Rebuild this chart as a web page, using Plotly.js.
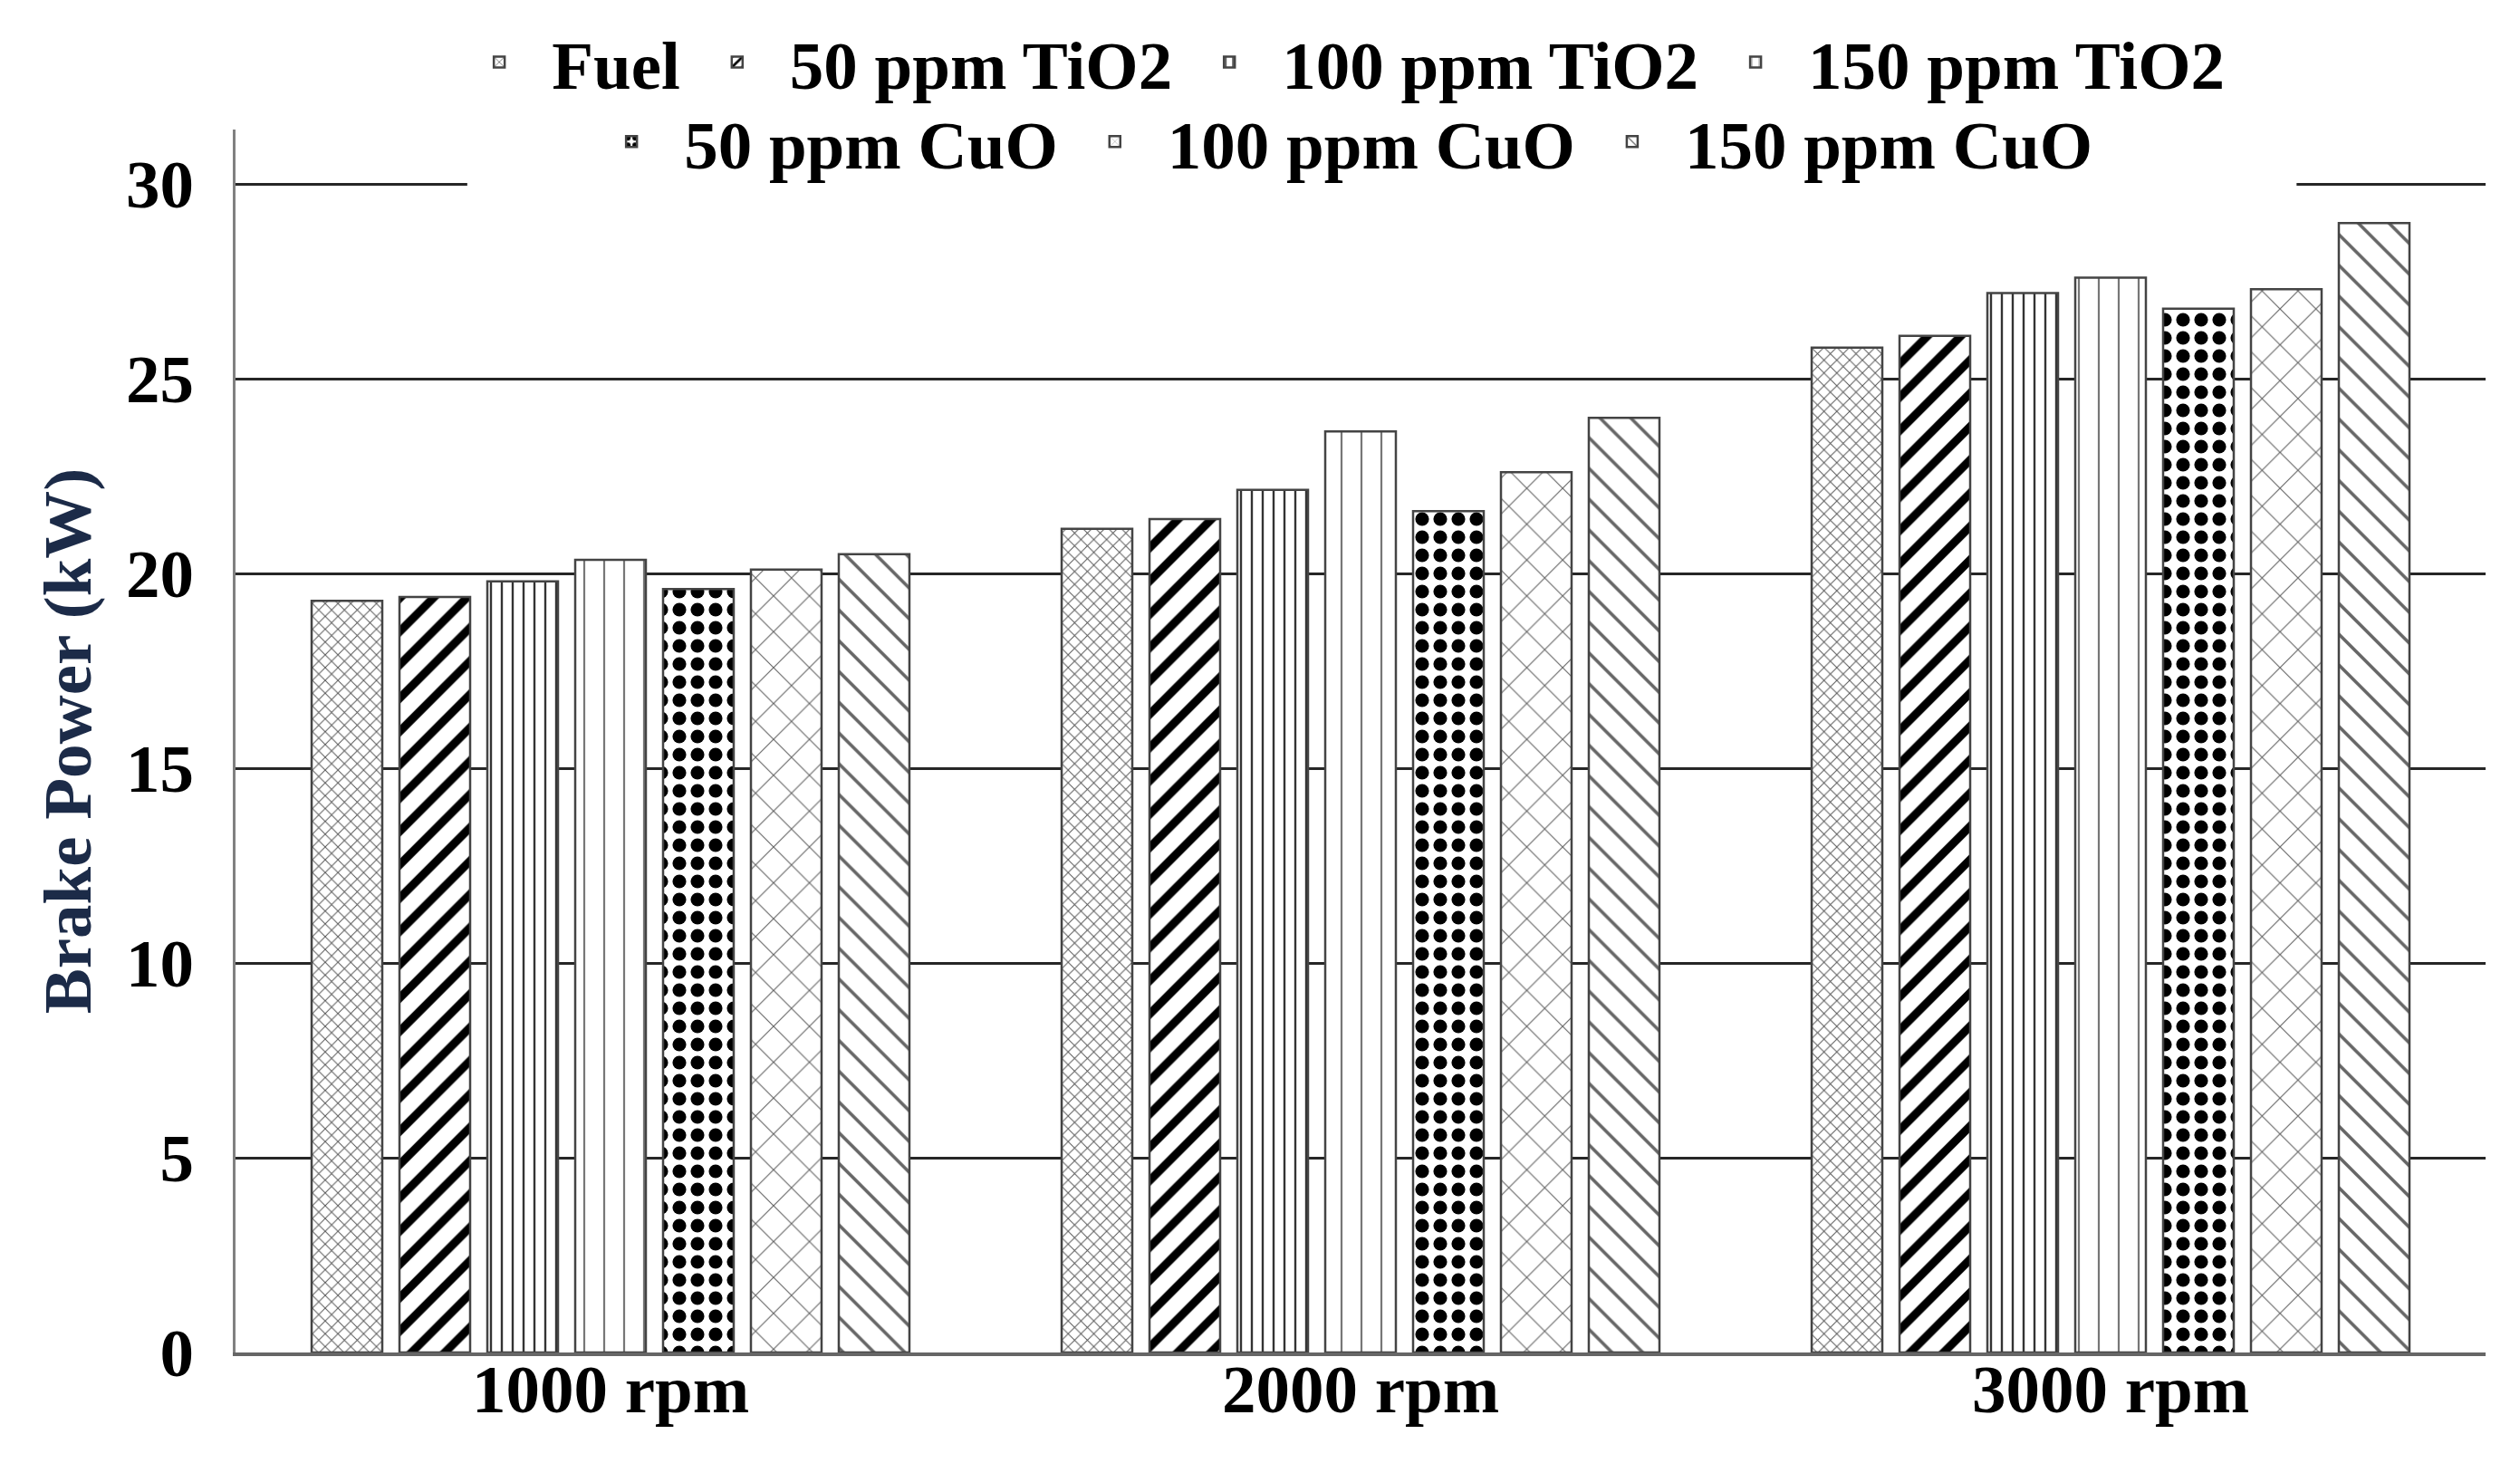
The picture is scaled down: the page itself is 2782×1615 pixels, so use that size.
<!DOCTYPE html>
<html>
<head>
<meta charset="utf-8">
<script src="https://cdn.plot.ly/plotly-3.0.1.min.js"></script>
<style>
  html, body { margin: 0; padding: 0; background: #fff; }
  #chart { width: 2782px; height: 1615px; }
</style>
</head>
<body>
<div id="chart"></div>
<script>
// categories (engine speed)
var speeds = ["1000 rpm", "2000 rpm", "3000 rpm"];

// brake power values (kW)
var y_Fuel     = [19.3, 21.15, 25.8];
var y_TiO2_50  = [19.4, 21.4, 26.1];
var y_TiO2_100 = [19.8, 22.15, 27.2];
var y_TiO2_150 = [20.35, 23.65, 27.6];
var y_CuO_50   = [19.6, 21.6, 26.8];
var y_CuO_100  = [20.1, 22.6, 27.3];
var y_CuO_150  = [20.5, 24.0, 29.0];

var names = ["Fuel", "50 ppm TiO2", "100 ppm TiO2", "150 ppm TiO2",
             "50 ppm CuO", "100 ppm CuO", "150 ppm CuO"];

var yTicks = [0, 5, 10, 15, 20, 25, 30];

var FONT = "Liberation Serif, Times New Roman, serif";

function makeBar(name, y, shape, size, fg, solidity, legendId) {
  return {
    x: speeds,
    y: y,
    name: name,
    type: 'bar',
    legend: legendId,
    hoverinfo: 'skip',
    marker: {
      color: 'white',
      line: {color: '#444', width: 2.5},
      pattern: {shape: shape, size: size, fgcolor: fg, bgcolor: 'white',
                solidity: solidity, fillmode: 'replace'}
    }
  };
}

var data = [
  makeBar(names[0], y_Fuel,     'x',  10, '#555', 0.18, 'legend'),
  makeBar(names[1], y_TiO2_50,  '/',  26, '#000', 0.35, 'legend'),
  makeBar(names[2], y_TiO2_100, '|',  12, '#333', 0.2,  'legend'),
  makeBar(names[3], y_TiO2_150, '|',  22, '#777', 0.1,  'legend'),
  makeBar(names[4], y_CuO_50,   '.',  20, '#000', 0.45, 'legend2'),
  makeBar(names[5], y_CuO_100,  'x',  28, '#666', 0.08, 'legend2'),
  makeBar(names[6], y_CuO_150,  '\\', 24, '#666', 0.15, 'legend2')
];

var legendFont = {family: FONT, size: 75, color: '#000', weight: 'bold'};

var layout = {
  width: 2782,
  height: 1615,
  paper_bgcolor: 'white',
  plot_bgcolor: 'white',
  margin: {l: 260, r: 38, t: 143, b: 122},
  barmode: 'group',
  bargap: 0.18,
  bargroupgap: 0.196,
  font: {family: FONT, size: 75, color: '#000', weight: 'bold'},
  xaxis: {
    type: 'category',
    range: [-0.5, 2.5],
    showgrid: false,
    showline: true,
    linecolor: '#666',
    linewidth: 4,
    ticks: '',
    ticklabelstandoff: -28,
    tickfont: {family: FONT, size: 75, color: '#000', weight: 'bold'},
    automargin: false
  },
  yaxis: {
    range: [0, 31.4],
    tickvals: yTicks,
    showgrid: true,
    gridcolor: '#262626',
    gridwidth: 3,
    zeroline: false,
    showline: true,
    linecolor: '#808080',
    linewidth: 3,
    ticks: '',
    ticklabelstandoff: 28,
    tickfont: {family: FONT, size: 75, color: '#000', weight: 'bold'},
    title: {text: 'Brake Power (kW)', standoff: 14,
            font: {family: FONT, size: 75, color: '#1c2b48', weight: 'bold'}},
    automargin: false
  },
  legend: {
    orientation: 'h',
    x: 0.49, xanchor: 'center',
    y: 1.055, yanchor: 'middle',
    bgcolor: 'rgba(0,0,0,0)',
    font: legendFont,
    itemwidth: 106,
    traceorder: 'normal'
  },
  legend2: {
    orientation: 'h',
    x: 0.49, xanchor: 'center',
    y: 0.99, yanchor: 'middle',
    bgcolor: 'rgba(0,0,0,0)',
    font: legendFont,
    itemwidth: 106,
    traceorder: 'normal'
  },
  // white legend box area hiding the top gridline
  shapes: [{
    type: 'rect', xref: 'paper', yref: 'y',
    x0: 0.103, x1: 0.916, y0: 29.8, y1: 31.4,
    fillcolor: 'white', line: {width: 0}, layer: 'above'
  }]
};

Plotly.newPlot('chart', data, layout, {displayModeBar: false, staticPlot: true});
</script>
</body>
</html>
